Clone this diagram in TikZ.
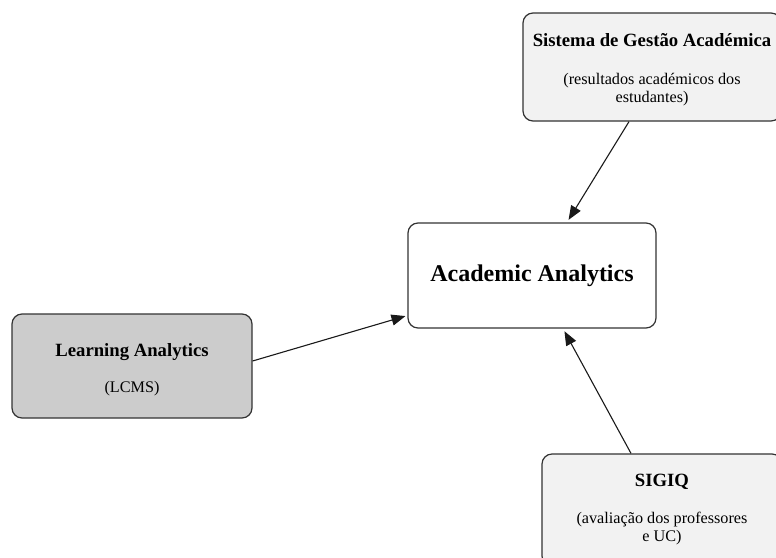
\documentclass[tikz,border=0pt]{standalone}
\usepackage{fontspec}
\setmainfont{Liberation Serif}
\usetikzlibrary{arrows.meta}
\definecolor{boxedge}{HTML}{333333}
\definecolor{lightfill}{HTML}{F2F2F2}
\definecolor{midfill}{HTML}{CCCCCC}
\tikzset{
  panel/.style={draw=boxedge, line width=1.2pt, rounded corners=10pt, inner sep=0pt},
  titletext/.style={anchor=base, inner sep=0pt, font=\bfseries\fontsize{18.7}{20}\selectfont},
  bigtitle/.style={anchor=base, inner sep=0pt, font=\bfseries\fontsize{24}{26}\selectfont},
  subtext/.style={anchor=base, inner sep=0pt, font=\fontsize{16.2}{18}\selectfont},
  link/.style={draw=black!90, line width=1.1pt, -{Triangle[length=14pt,width=11pt]}}
}
\begin{document}
\begin{tikzpicture}[x=1pt,y=-1pt]
\useasboundingbox (0,0) rectangle (776,557);
\clip (0,0) rectangle (776,557);
% boxes
\node[panel, fill=lightfill, minimum width=258pt, minimum height=108pt] (sga) at (652,67) {};
\node[panel, fill=white, minimum width=248pt, minimum height=105pt] (aa) at (532,275.5) {};
\node[panel, fill=midfill, minimum width=240pt, minimum height=104pt] (la) at (132,366) {};
\node[panel, fill=lightfill, minimum width=240pt, minimum height=112pt] (sigiq) at (662,510) {};
% texts
\node[titletext] (sgaT) at (652,46) {Sistema de Gestão Académica};
\node[subtext] (sgaS1) at (652,84) {(resultados académicos dos};
\node[subtext] (sgaS2) at (652,102) {estudantes)};
\node[bigtitle] (aaT) at (532,281) {Academic Analytics};
\node[titletext] (laT) at (132,356) {Learning Analytics};
\node[subtext] (laS) at (132,392) {(LCMS)};
\node[titletext] (sigT) at (662,486) {SIGIQ};
\node[subtext] (sigS1) at (662,523) {(avaliação dos professores};
\node[subtext] (sigS2) at (662,541) {e UC)};
% connectors
\draw[link, shorten >=3pt] ([xshift=-23pt]sga.south) -- ([xshift=35pt]aa.north);
\draw[link, shorten >=2pt] ([yshift=5pt]la.east) -- ([yshift=-40pt]aa.west);
\draw[link, shorten >=3pt] ([xshift=-31pt]sigiq.north) -- ([xshift=31pt]aa.south);
\end{tikzpicture}
\end{document}
